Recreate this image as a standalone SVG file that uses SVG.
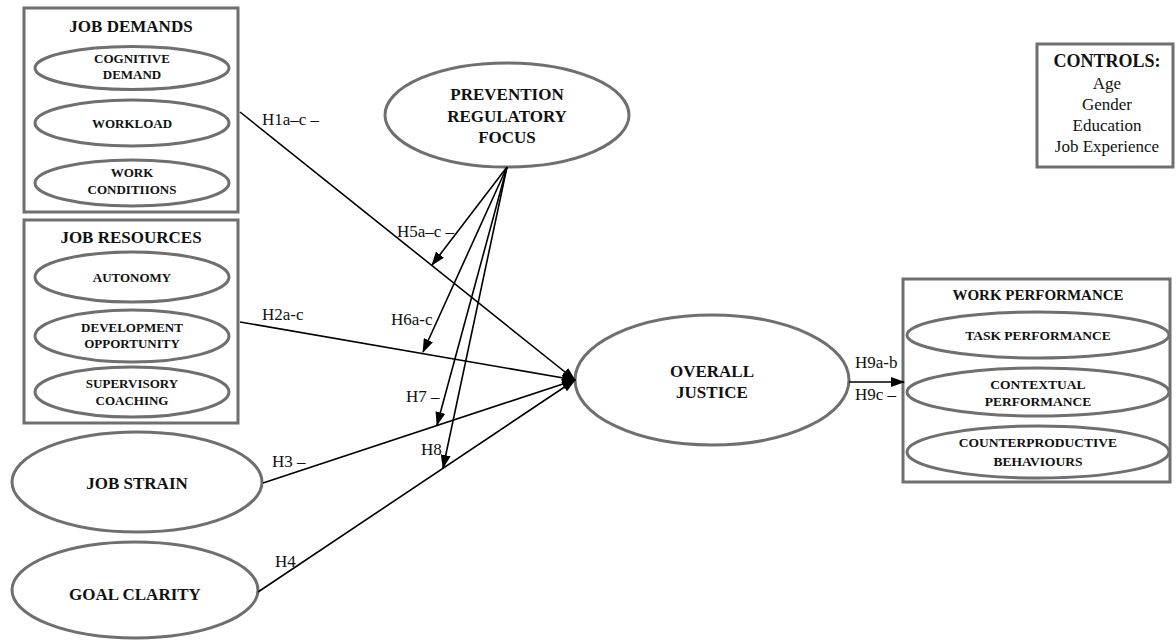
<svg xmlns="http://www.w3.org/2000/svg" width="1176" height="643" viewBox="0 0 1176 643">
<defs>
<marker id="ah" markerUnits="userSpaceOnUse" markerWidth="14" markerHeight="10" refX="13" refY="5" orient="auto">
<path d="M0,0 L14,5 L0,10 Z" fill="#000"/>
</marker>
<style>
.box{fill:#fff;stroke:#6f6f6f;stroke-width:3}
.ell{fill:#fff;stroke:#6f6f6f;stroke-width:3}
.t{font-family:"Liberation Serif","Times New Roman",serif;font-weight:bold;text-anchor:middle;fill:#111}
.s{font-size:13px}
.w{font-size:13.5px}
.m{font-size:17px}
.b{font-size:17px}
.l{font-family:"Liberation Serif","Times New Roman",serif;font-size:17px;fill:#111}
.c{font-family:"Liberation Serif","Times New Roman",serif;font-size:17px;fill:#111;text-anchor:middle}
.ln{stroke:#000;stroke-width:1.6;fill:none}
</style>
</defs>
<rect width="1176" height="643" fill="#fff"/>

<g id="job-demands">
<rect class="box" x="24" y="8" width="214" height="204"/>
<text class="t m" x="131" y="32">JOB DEMANDS</text>
<ellipse class="ell" cx="132" cy="68" rx="97" ry="21.5"/>
<text class="t s" x="132" y="63">COGNITIVE</text>
<text class="t s" x="132" y="79">DEMAND</text>
<ellipse class="ell" cx="132" cy="123" rx="97" ry="23"/>
<text class="t s" x="132" y="128">WORKLOAD</text>
<ellipse class="ell" cx="132" cy="183" rx="97" ry="23"/>
<text class="t s" x="132" y="177">WORK</text>
<text class="t s" x="132" y="194">CONDITIIONS</text>
</g>

<g id="job-resources">
<rect class="box" x="24" y="220" width="214" height="203"/>
<text class="t m" x="131" y="243">JOB RESOURCES</text>
<ellipse class="ell" cx="132" cy="277" rx="97" ry="25"/>
<text class="t s" x="132" y="282">AUTONOMY</text>
<ellipse class="ell" cx="132" cy="336" rx="97" ry="26"/>
<text class="t s" x="132" y="332">DEVELOPMENT</text>
<text class="t s" x="132" y="348">OPPORTUNITY</text>
<ellipse class="ell" cx="132" cy="392" rx="97" ry="25"/>
<text class="t s" x="132" y="388">SUPERVISORY</text>
<text class="t s" x="132" y="405">COACHING</text>
</g>

<g id="job-strain">
<ellipse class="ell" cx="137" cy="482" rx="125" ry="50"/>
<text class="t b" x="137" y="489">JOB STRAIN</text>
</g>

<g id="goal-clarity">
<ellipse class="ell" cx="135" cy="590" rx="123" ry="48"/>
<text class="t b" x="135" y="600">GOAL CLARITY</text>
</g>

<g id="prevention">
<ellipse class="ell" cx="507" cy="115" rx="122" ry="52"/>
<text class="t b" x="507" y="100">PREVENTION</text>
<text class="t b" x="507" y="122">REGULATORY</text>
<text class="t b" x="507" y="143">FOCUS</text>
</g>

<g id="overall-justice">
<ellipse class="ell" cx="712" cy="380" rx="137" ry="65"/>
<text class="t b" x="712" y="377">OVERALL</text>
<text class="t b" x="712" y="398">JUSTICE</text>
</g>

<g id="work-performance">
<rect class="box" x="903" y="279" width="267" height="203"/>
<text class="t" style="font-size:15px" x="1038" y="300">WORK PERFORMANCE</text>
<ellipse class="ell" cx="1038" cy="335" rx="131" ry="23"/>
<text class="t w" x="1038" y="340">TASK PERFORMANCE</text>
<ellipse class="ell" cx="1038" cy="392" rx="131" ry="24"/>
<text class="t w" x="1038" y="389">CONTEXTUAL</text>
<text class="t w" x="1038" y="406">PERFORMANCE</text>
<ellipse class="ell" cx="1038" cy="452" rx="131" ry="26"/>
<text class="t w" x="1038" y="447">COUNTERPRODUCTIVE</text>
<text class="t w" x="1038" y="466">BEHAVIOURS</text>
</g>

<g id="controls">
<rect class="box" x="1037" y="44" width="136" height="123"/>
<text class="t" style="font-size:18px" x="1107" y="67">CONTROLS:</text>
<text class="c" x="1107" y="89">Age</text>
<text class="c" x="1107" y="110">Gender</text>
<text class="c" x="1107" y="131">Education</text>
<text class="c" x="1107" y="152">Job Experience</text>
</g>

<g id="connectors">
<line class="ln" x1="240" y1="112" x2="575" y2="380" marker-end="url(#ah)"/>
<line class="ln" x1="240" y1="322" x2="575" y2="380" marker-end="url(#ah)"/>
<line class="ln" x1="263" y1="483" x2="575" y2="380" marker-end="url(#ah)"/>
<line class="ln" x1="258" y1="592" x2="575" y2="380" marker-end="url(#ah)"/>
<line class="ln" x1="507" y1="167" x2="432" y2="265" marker-end="url(#ah)"/>
<line class="ln" x1="507" y1="167" x2="423" y2="352" marker-end="url(#ah)"/>
<line class="ln" x1="507" y1="167" x2="437" y2="425" marker-end="url(#ah)"/>
<line class="ln" x1="507" y1="167" x2="443" y2="468" marker-end="url(#ah)"/>
<line class="ln" x1="849" y1="382" x2="904" y2="382" marker-end="url(#ah)"/>
<text class="l" x="262" y="125">H1a–c –</text>
<text class="l" x="262" y="320">H2a-c</text>
<text class="l" x="272" y="467">H3 –</text>
<text class="l" x="275" y="567">H4</text>
<text class="l" x="397" y="237">H5a–c –</text>
<text class="l" x="391" y="325">H6a-c</text>
<text class="l" x="406" y="402">H7 –</text>
<text class="l" x="421" y="455">H8</text>
<text class="l" x="855" y="368">H9a-b</text>
<text class="l" x="855" y="400">H9c –</text>
</g>
</svg>
